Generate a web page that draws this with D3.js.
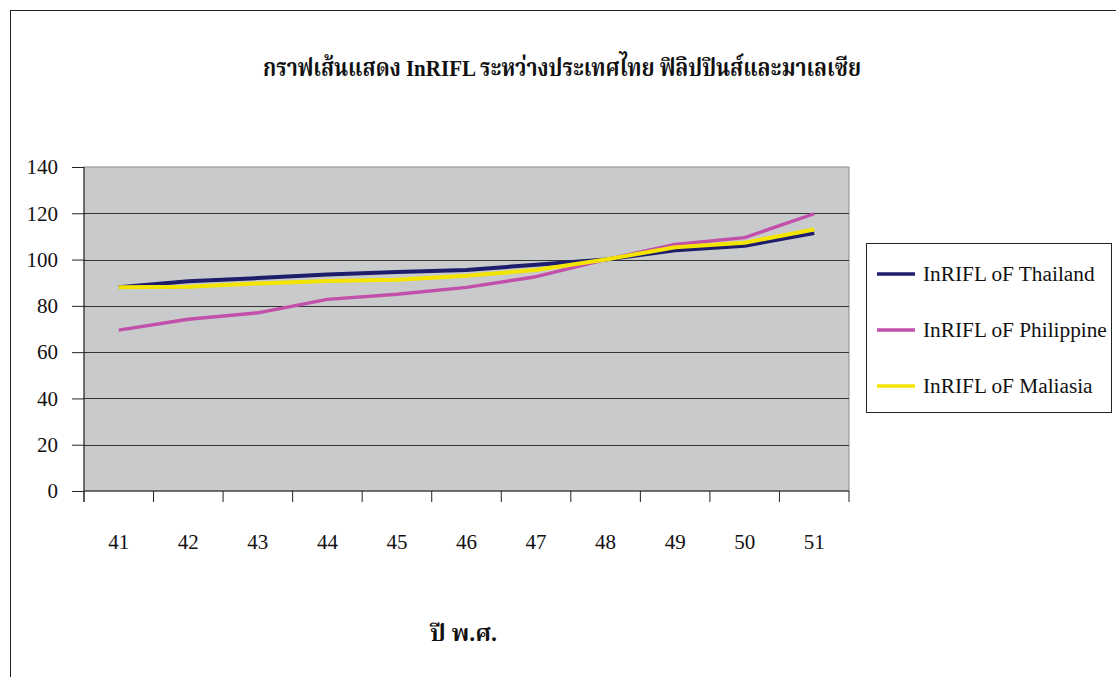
<!DOCTYPE html>
<html>
<head>
<meta charset="utf-8">
<script src="https://cdn.jsdelivr.net/npm/d3@7"></script>
<style>
  html, body { margin: 0; padding: 0; background: #ffffff; }
  svg { display: block; }
</style>
</head>
<body>
<svg id="chart" width="1116" height="677"></svg>
<script>
// ---- data ----
const years = ["41", "42", "43", "44", "45", "46", "47", "48", "49", "50", "51"];
const thailand   = [88, 90.6, 92, 93.5, 94.6, 95.5, 97.8, 100, 104, 106, 111.5];
const philippine = [69.5, 74.2, 77, 82.8, 85, 88, 92.6, 100, 106.5, 109.5, 119.8];
const maliasia   = [88, 88.3, 89.7, 90.7, 91.3, 93, 95.5, 100, 105.3, 107.3, 113];
const seriesNames = ["InRIFL oF Thailand", "InRIFL oF Philippine", "InRIFL oF Maliasia"];
const yTicks = [0, 20, 40, 60, 80, 100, 120, 140];
const titleText = "กราฟเส้นแสดง InRIFL ระหว่างประเทศไทย ฟิลิปปินส์และมาเลเซีย";
const xTitleText = "ปี พ.ศ.";

(function () {
const seriesValues = [thailand, philippine, maliasia];
const colors = ["#1d1d6c", "#c24fa9", "#f3e500"];

const svg = d3.select("#chart");
const serif = "'Liberation Serif', 'Times New Roman', 'Noto Serif Thai', 'Noto Sans Thai', serif";

// outer chart frame
svg.append("rect")
  .attr("x", 10.5).attr("y", 10.5)
  .attr("width", 1120).attr("height", 680)
  .attr("fill", "none").attr("stroke", "#222").attr("stroke-width", 1);

const pL = 84, pR = 849, pT = 167, pB = 491;

const x = d3.scaleBand().domain(years).range([pL, pR]).padding(0);
const y = d3.scaleLinear().domain([0, 140]).range([pB, pT]);

// plot background
svg.append("rect")
  .attr("x", pL).attr("y", pT)
  .attr("width", pR - pL).attr("height", pB - pT)
  .attr("fill", "#c9cacc").attr("stroke", "#8a8a8a").attr("stroke-width", 1);

// gridlines
svg.append("g").selectAll("line")
  .data(yTicks.filter(d => d > 0 && d < 140))
  .join("line")
  .attr("x1", pL).attr("x2", pR)
  .attr("y1", d => Math.round(y(d)) + 0.5).attr("y2", d => Math.round(y(d)) + 0.5)
  .attr("stroke", "#333").attr("stroke-width", 1.2);

// y axis
const yAxis = d3.axisLeft(y).tickValues(yTicks).tickSize(12).tickPadding(14);
const gy = svg.append("g").attr("transform", `translate(${pL},0)`).call(yAxis);
gy.select(".domain").attr("stroke", "#222").attr("d", `M0,${pT}V${pB + 11}`);
gy.selectAll(".tick line").attr("stroke", "#222");
gy.selectAll(".tick text")
  .attr("font-family", serif).attr("font-size", 21).attr("fill", "#111");

// x axis
const xAxis = d3.axisBottom(x).tickSize(0).tickPadding(43);
const gx = svg.append("g").attr("transform", `translate(0,${pB})`).call(xAxis);
gx.select(".domain").attr("stroke", "#222").attr("d", `M${pL},0H${pR}`);
gx.selectAll(".tick text")
  .attr("font-family", serif).attr("font-size", 21).attr("fill", "#111");
// category boundary ticks
const boundaries = years.map(d => x(d)).concat([x(years[years.length - 1]) + x.bandwidth()]);
gx.append("g").selectAll("line").data(boundaries).join("line")
  .attr("x1", d => d).attr("x2", d => d)
  .attr("y1", 0).attr("y2", 11)
  .attr("stroke", "#222");

// lines
const line = d3.line()
  .x((d, i) => x(years[i]) + x.bandwidth() / 2)
  .y(d => y(d));

svg.append("g").selectAll("path")
  .data(seriesValues)
  .join("path")
  .attr("d", d => line(d))
  .attr("fill", "none")
  .attr("stroke", (d, i) => colors[i])
  .attr("stroke-width", (d, i) => i === 1 ? 3.4 : 4)
  .attr("stroke-linejoin", "round");

// title
svg.append("text")
  .attr("x", 263).attr("y", 76)
  .attr("font-family", serif).attr("font-weight", "bold")
  .attr("font-size", 24).attr("fill", "#111")
  .attr("textLength", 598).attr("lengthAdjust", "spacingAndGlyphs")
  .text(titleText);

// x axis title
svg.append("text")
  .attr("x", 430).attr("y", 641)
  .attr("font-family", serif).attr("font-weight", "bold")
  .attr("font-size", 23).attr("fill", "#111")
  .attr("textLength", 67).attr("lengthAdjust", "spacingAndGlyphs")
  .text(xTitleText);

// legend
const lg = svg.append("g");
lg.append("rect")
  .attr("x", 866.5).attr("y", 243.5)
  .attr("width", 245).attr("height", 169)
  .attr("fill", "#fff").attr("stroke", "#222").attr("stroke-width", 1);
const legY = [274, 330, 386];
const items = lg.selectAll("g.item").data(seriesNames).join("g").attr("class", "item")
  .attr("transform", (d, i) => `translate(0,${legY[i]})`);
items.append("line")
  .attr("x1", 877).attr("x2", 915).attr("y1", 0).attr("y2", 0)
  .attr("stroke", (d, i) => colors[i]).attr("stroke-width", 3.6);
items.append("text")
  .attr("x", 923).attr("y", 7)
  .attr("font-family", serif).attr("font-size", 21.3).attr("fill", "#111")
  .text(d => d);
})();
</script>
</body>
</html>
